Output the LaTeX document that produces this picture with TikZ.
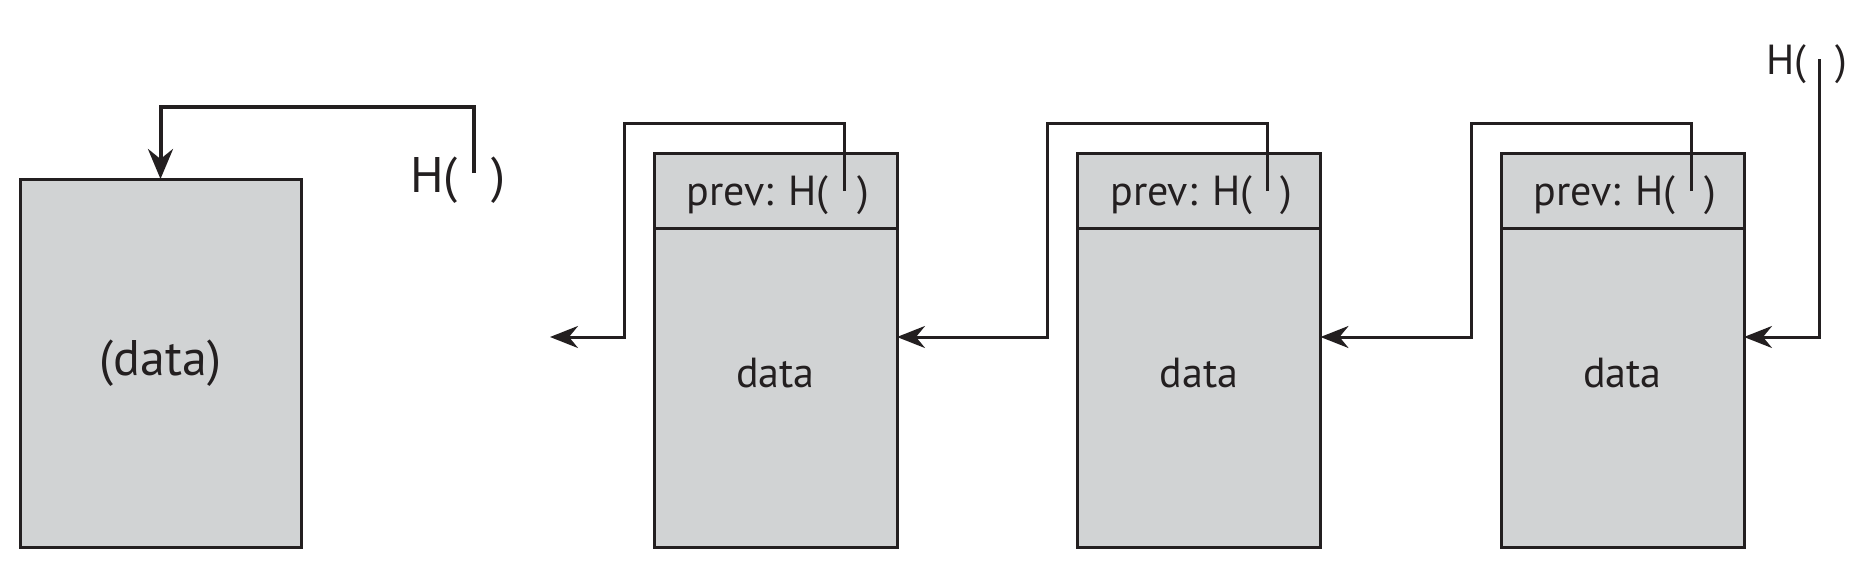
\documentclass[tikz,border=0pt]{standalone}
\usepackage{fontspec}
\setmainfont{PT Sans}
\usetikzlibrary{arrows.meta,calc}
\definecolor{blockgray}{RGB}{209,211,212}
\definecolor{ink}{RGB}{35,31,32}

\begin{document}
\begin{tikzpicture}[x=0.5pt,y=-0.5pt,
    block/.style={draw=ink,line width=1.5pt,fill=blockgray,inner sep=0pt,
      outer sep=0pt,minimum width=121.5pt,minimum height=197pt,anchor=north west},
    link/.style={draw=ink,line width=1.5pt,-{Stealth[length=14pt,width=11pt,inset=4.5pt]}},
    lbl/.style={text=ink,inner sep=0pt,font=\fontsize{21}{25}\selectfont},
    biglbl/.style={lbl,font=\fontsize{25}{30}\selectfont}]
  \useasboundingbox (0,0) rectangle (1876,578);

  %%%%  genesis block
  \node[block,minimum width=140.5pt,minimum height=184pt] (gen) at (20,179) {};
  \node[biglbl] (gendata) at (gen.center) {(data)};
  \coordinate (ptr0) at (474,173);
  \node[biglbl,anchor=base east] (hl0) at ($(ptr0)+(-16,19)$) {H(};
  \node[biglbl,anchor=base west] (hr0) at ($(ptr0)+(17,19)$) {)};
  \draw[link,line width=2pt,-{Stealth[length=15pt,width=12.5pt,inset=5pt]}]
    (ptr0) -- ++(0,-66) -| (gen.north);

  %%%%  chain
  \coordinate (in0) at (550,337);
  \foreach \i/\x in {1/654,2/1077.5,3/1501}
  {\node[block] (blk\i) at (\x,153) {};
   \draw[draw=ink,line width=1.5pt] ($(blk\i.north west)+(0,75)$)
     -- ($(blk\i.north east)+(0,75)$);
   \node[lbl] (data\i) at ($(blk\i.north)+(0,220)$) {data};
   \coordinate (ptr\i) at ($(blk\i.north west)+(190,38)$);
   \node[lbl,anchor=base east] (hl\i) at ($(ptr\i)+(-15,14)$) {prev: H(};
   \node[lbl,anchor=base west] (hr\i) at ($(ptr\i)+(13,14)$) {)};
   \coordinate (in\i) at ($(blk\i.north east)+(0,184)$);
  };

  \foreach \i in {1,2,3}
  {\pgfmathtruncatemacro\j{\i-1}
   \draw[link] (ptr\i) |- ++(-220,-68) |- (in\j);
  };

  %%%%  head pointer
  \coordinate (ptr4) at (1819,59);
  \node[lbl,anchor=base east] (hl4) at ($(ptr4)+(-12,16)$) {H(};
  \node[lbl,anchor=base west] (hr4) at ($(ptr4)+(16,16)$) {)};
  \draw[link] (ptr4) |- (in3);
\end{tikzpicture}
\end{document}
